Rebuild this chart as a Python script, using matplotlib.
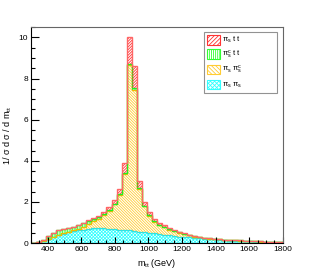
import numpy as np
import matplotlib
matplotlib.use("Agg")
import matplotlib.pyplot as plt
from matplotlib.patches import Patch
from matplotlib.ticker import MultipleLocator

# 30 GeV bins from 300 to 1800
edges = np.arange(300, 1801, 30)

# pi_s pi_s (bottom of the stack)
pis_pis = [0.0, 0.03, 0.10, 0.20, 0.30, 0.38, 0.45, 0.52, 0.57, 0.62,
           0.66, 0.69, 0.71, 0.72, 0.71, 0.70, 0.68, 0.66, 0.64, 0.62,
           0.60, 0.56, 0.53, 0.50, 0.47, 0.44, 0.41, 0.38, 0.35, 0.32,
           0.30, 0.28, 0.26, 0.24, 0.22, 0.20, 0.18, 0.16, 0.14, 0.12,
           0.11, 0.10, 0.09, 0.08, 0.07, 0.06, 0.05, 0.04, 0.04, 0.03]

# pi_s pi_s^c
pis_pisc = [0.0, 0.0, 0.0, 0.0, 0.01, 0.02, 0.03, 0.04, 0.05, 0.08,
            0.14, 0.23, 0.34, 0.45, 0.64, 0.88, 1.20, 1.69, 2.71, 8.03,
            6.85, 2.06, 1.25, 0.84, 0.55, 0.42, 0.37, 0.28, 0.22, 0.19,
            0.13, 0.09, 0.06, 0.04, 0.03, 0.02, 0.02, 0.02, 0.02, 0.02,
            0.02, 0.02, 0.01, 0.01, 0.01, 0.01, 0.01, 0.01, 0.01, 0.01]

# pi_s^c t t
pisc_tt = [0.0, 0.02, 0.05, 0.14, 0.17, 0.22, 0.21, 0.17, 0.16, 0.17,
           0.16, 0.14, 0.12, 0.11, 0.07, 0.04, 0.04, 0.05, 0.07, 0.07,
           0.07, 0.06, 0.04, 0.03, 0.03, 0.02, 0.02, 0.03, 0.03, 0.02,
           0.02, 0.02, 0.02, 0.01, 0.01, 0.01, 0.01, 0.01, 0.01, 0.01,
           0.01, 0.01, 0.01, 0.01, 0.01, 0.01, 0.01, 0.01, 0.01, 0.01]

# pi_s t t (top of the stack)
pis_tt = [0.0, 0.0, 0.0, 0.01, 0.02, 0.01, 0.01, 0.01, 0.02, 0.03,
          0.04, 0.04, 0.05, 0.05, 0.08, 0.13, 0.17, 0.22, 0.46, 1.28,
          1.10, 0.32, 0.16, 0.13, 0.11, 0.08, 0.08, 0.03, 0.02, 0.02,
          0.02, 0.01, 0.01, 0.01, 0.01, 0.0, 0.0, 0.0, 0.0, 0.0,
          0.0, 0.0, 0.0, 0.0, 0.0, 0.0, 0.0, 0.0, 0.0, 0.0]

labels = [r"$\pi_s\ t\ t$", r"$\pi_s^c\ t\ t$", r"$\pi_s\ \pi_s^c$", r"$\pi_s\ \pi_s$"]

plt.rcParams['font.family'] = ['Liberation Sans', 'DejaVu Sans']
plt.rcParams['mathtext.fontset'] = 'custom'
plt.rcParams['mathtext.rm'] = 'Liberation Sans'
plt.rcParams['mathtext.it'] = 'Liberation Sans'
plt.rcParams['hatch.linewidth'] = 0.6

fig = plt.figure(figsize=(3.15, 2.71), dpi=100)
ax = fig.add_axes([0.098, 0.103, 0.8, 0.797])

# stack: values, hatch colour, outline colour, hatch
stack = [
    (pis_pis, "#33ffff", "#33e0e0", "xxxxxxxxxx"),
    (pis_pisc, "#ffcc33", "#eebb00", "\\" * 12),
    (pisc_tt, "#33ff33", "#22ee22", "|" * 10),
    (pis_tt, "#ff3333", "#ff6666", "/" * 12),
]

bottom = np.zeros(len(edges) - 1)
for vals, hcol, lcol, hatch in stack:
    vals = np.array(vals)
    ax.bar(edges[:-1], vals, width=30, bottom=bottom, align='edge',
           facecolor='none', edgecolor=hcol, hatch=hatch, linewidth=0)
    top = bottom + vals
    ax.stairs(top, edges, color=lcol, linewidth=1.0)
    bottom = top

ax.set_xlim(300, 1800)
ax.set_ylim(0, 10.5)
ax.xaxis.set_major_locator(MultipleLocator(200))
ax.xaxis.set_minor_locator(MultipleLocator(50))
ax.yaxis.set_major_locator(MultipleLocator(2))
ax.yaxis.set_minor_locator(MultipleLocator(0.5))
ax.tick_params(which='both', direction='in', labelsize=6, width=0.8, pad=2)
ax.tick_params(which='major', length=6)
ax.tick_params(which='minor', length=3)
ax.tick_params(axis='x', which='major', length=4)
ax.tick_params(axis='x', which='minor', length=2.5)
for side in ['top', 'right']:
    ax.spines[side].set_color('#666666')
    ax.spines[side].set_linewidth(0.8)
for side in ['left', 'bottom']:
    ax.spines[side].set_linewidth(0.8)

ax.set_xlabel(r"m$_{\rm tt}$ (GeV)", fontsize=6.5, labelpad=3)
ax.set_ylabel(r"1/ $\sigma$ d $\sigma$ / d m$_{\rm tt}$", fontsize=6.5, labelpad=3)

handles = [Patch(facecolor='none', edgecolor=stack[i][1], hatch=stack[i][3][:8], linewidth=0.8)
           for i in [3, 2, 1, 0]]
leg = ax.legend(handles, labels, loc='upper left', bbox_to_anchor=(0.687, 0.977, 0.289, 0.0),
                mode='expand', fontsize=5.5, frameon=True, fancybox=False, handlelength=1.7,
                handleheight=1.6, labelspacing=0.45, borderpad=0.35, handletextpad=0.3,
                borderaxespad=0)
leg.get_frame().set_edgecolor('#777777')
leg.get_frame().set_linewidth(0.8)

fig.savefig("out.png", dpi=100)
